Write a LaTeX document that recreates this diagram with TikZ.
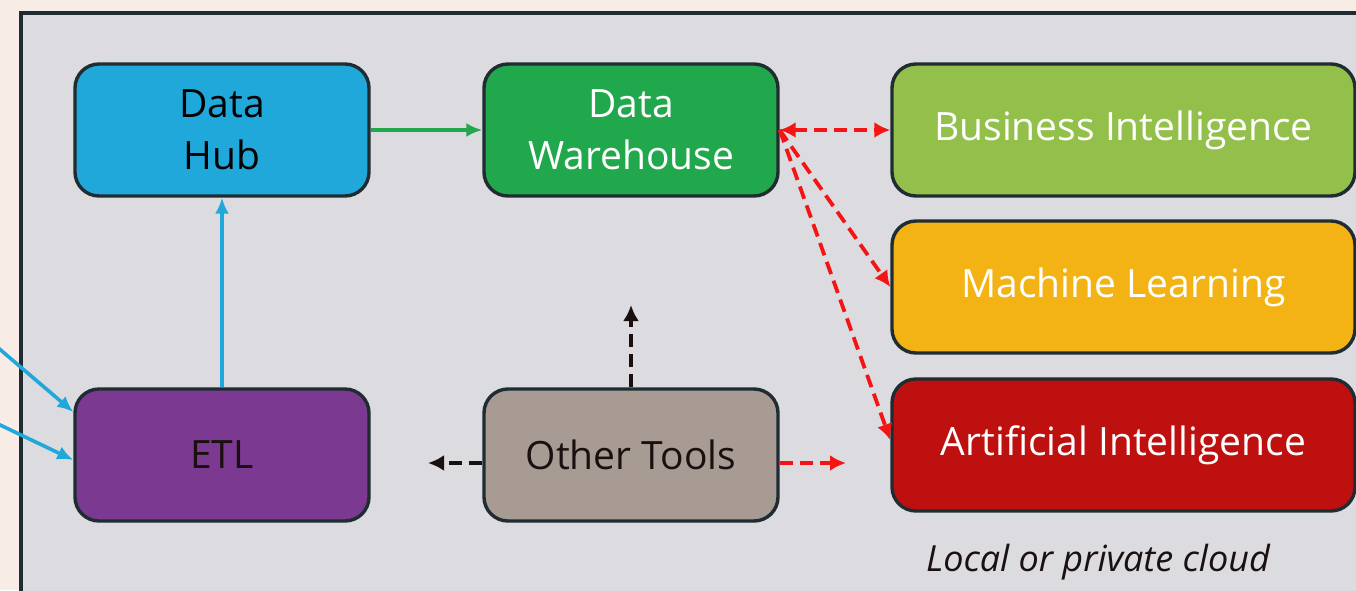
\documentclass[tikz,border=0pt]{standalone}
\usepackage{fontspec}
\setmainfont{Open Sans}
\usetikzlibrary{arrows.meta,positioning,calc}
\definecolor{peach}{HTML}{F8ECE6}
\definecolor{panel}{HTML}{DCDBE0}
\definecolor{frame}{HTML}{1F2D33}
\definecolor{hubblue}{HTML}{21A8DA}
\definecolor{whgreen}{HTML}{22A84C}
\definecolor{bigreen}{HTML}{92C04A}
\definecolor{mlyellow}{HTML}{F3B315}
\definecolor{aired}{HTML}{BF1010}
\definecolor{etlpurple}{HTML}{7B3992}
\definecolor{tooltaupe}{HTML}{A89B93}
\definecolor{dashred}{HTML}{F41414}
\definecolor{dashblack}{HTML}{1A1010}
\begin{document}
\begin{tikzpicture}[x=0.5pt,y=-0.5pt,
        box/.style={draw=frame,line width=1.7pt,rounded corners=12pt,
            minimum width=147pt,minimum height=66pt,align=center,
            font=\fontsize{19.5}{26}\selectfont},
        widebox/.style={box,minimum width=231.5pt,text=white},
        solidarrow/.style={line width=1.8pt,-{Latex[length=8pt,width=7pt]}},
        dasharrow/.style={line width=1.9pt,dash pattern=on 6.5pt off 3.5pt,
            -{Latex[length=8pt,width=8pt]}}
        ]
        % Background and panel
        \useasboundingbox (0,0) rectangle (1356,590);
        \fill[peach] (0,0) rectangle (1356,590);
        \clip (0,0) rectangle (1356,590);
        \draw[frame,fill=panel,line width=1.7pt] (21,13) rectangle (1380,620);

        % Boxes
        \node[box,fill=hubblue] (hub) at (222,130) {Data\\Hub};
        \node[box,fill=whgreen,text=white] (dw) at (631,130) {Data\\Warehouse};
        \node[box,fill=etlpurple,text=dashblack] (etl) at (222,455) {ETL};
        \node[box,fill=tooltaupe,text=dashblack] (tools) at (631,455) {Other Tools};
        \node[widebox,fill=bigreen] (bi) at (1123.5,130) {Business Intelligence};
        \node[widebox,fill=mlyellow] (ml) at (1123.5,287) {Machine Learning};
        \node[widebox,fill=aired] (ai) at (1123.5,445) {Artificial Intelligence};
        \node[font=\fontsize{18}{22}\selectfont\itshape,text=dashblack] (cloud)
            at (1098,562) {Local or private cloud};

        % Free ends
        \coordinate (src1) at (-4,346);
        \coordinate (src2) at (-4,423);
        \coordinate (toolsleft) at (428,463);
        \coordinate (toolsup) at (631,305);
        \coordinate (toolsright) at (846,463);

        % Solid flows
        \draw[solidarrow,whgreen] (hub.east) -- (dw.west);
        \draw[solidarrow,hubblue] (etl.north) -- (hub.south);
        \draw[solidarrow,hubblue] (src1) -- ($(etl.west)+(0,-43)$);
        \draw[solidarrow,hubblue] (src2) -- ($(etl.west)+(0,5)$);

        %% Dashed flows out of the warehouse and the tools
        \draw[dasharrow,dashred,{Latex[length=8pt,width=8pt]}-{Latex[length=8pt,width=8pt]}]
            (dw.east) -- (bi.west);
        \draw[dasharrow,dashred] (dw.east) -- (ml.west);
        \draw[dasharrow,dashred] (dw.east) -- ($(ai.west)+(0,-5)$);
        \draw[dasharrow,dashred] ($(tools.east)+(0,8)$) -- (toolsright);
        \draw[dasharrow,dashblack] ($(tools.west)+(0,8)$) -- (toolsleft);
        \draw[dasharrow,dashblack] (tools.north) -- (toolsup);
\end{tikzpicture}
\end{document}
